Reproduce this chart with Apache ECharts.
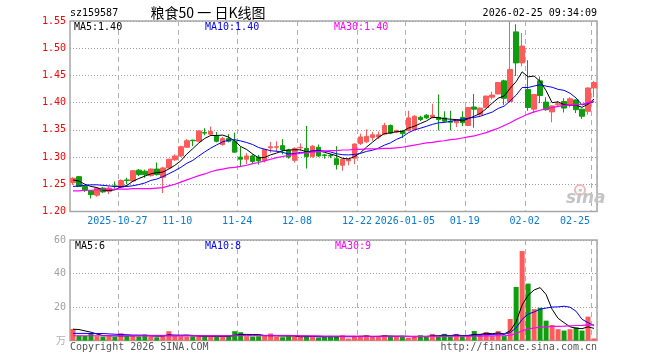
<!DOCTYPE html>
<html><head><meta charset="utf-8">
<script src="https://cdn.jsdelivr.net/npm/echarts@6/dist/echarts.min.js"></script>
<style>html,body{margin:0;padding:0;background:#fff}#c{width:660px;height:360px}</style>
</head><body><div id="c"></div>
<script>
const dates = ['2025-10-15','2025-10-16','2025-10-17','2025-10-20','2025-10-21','2025-10-22','2025-10-23','2025-10-24','2025-10-27','2025-10-28',
'2025-10-29','2025-10-30','2025-10-31','2025-11-03','2025-11-04','2025-11-05','2025-11-06','2025-11-07','2025-11-10','2025-11-11',
'2025-11-12','2025-11-13','2025-11-14','2025-11-17','2025-11-18','2025-11-19','2025-11-20','2025-11-21','2025-11-24','2025-11-25',
'2025-11-26','2025-11-27','2025-11-28','2025-12-01','2025-12-02','2025-12-03','2025-12-04','2025-12-05','2025-12-08','2025-12-09',
'2025-12-10','2025-12-11','2025-12-12','2025-12-15','2025-12-16','2025-12-17','2025-12-18','2025-12-19','2025-12-22','2025-12-23',
'2025-12-24','2025-12-25','2025-12-26','2025-12-29','2025-12-30','2025-12-31','2026-01-05','2026-01-06','2026-01-07','2026-01-08',
'2026-01-09','2026-01-12','2026-01-13','2026-01-14','2026-01-15','2026-01-16','2026-01-19','2026-01-20','2026-01-21','2026-01-22',
'2026-01-23','2026-01-26','2026-01-27','2026-01-28','2026-01-29','2026-01-30','2026-02-02','2026-02-03','2026-02-04','2026-02-05',
'2026-02-06','2026-02-09','2026-02-10','2026-02-11','2026-02-12','2026-02-13','2026-02-24','2026-02-25'];

const tickDates = ['2025-10-27','2025-11-10','2025-11-24','2025-12-08','2025-12-22','2026-01-05','2026-01-19','2026-02-02','2026-02-25'];
const tickLabels = ['2025-10-27','11-10','11-24','12-08','12-22','2026-01-05','01-19','02-02','02-25'];

const open = [1.253,1.264,1.246,1.238,1.230,1.243,1.237,1.247,1.244,1.258,
1.256,1.276,1.274,1.266,1.278,1.263,1.280,1.295,1.302,1.318,
1.331,1.329,1.345,1.342,1.339,1.323,1.334,1.329,1.300,1.296,
1.302,1.300,1.294,1.317,1.318,1.321,1.313,1.294,1.317,1.316,
1.301,1.318,1.304,1.303,1.297,1.285,1.293,1.298,1.325,1.328,
1.336,1.337,1.342,1.358,1.346,1.348,1.349,1.351,1.373,1.377,
1.373,1.373,1.372,1.366,1.363,1.373,1.358,1.392,1.378,1.391,
1.410,1.416,1.440,1.402,1.530,1.473,1.424,1.388,1.440,1.401,
1.383,1.396,1.402,1.396,1.405,1.388,1.384,1.427];
const close = [1.261,1.246,1.239,1.231,1.243,1.236,1.243,1.246,1.257,1.257,
1.275,1.268,1.268,1.278,1.268,1.280,1.296,1.302,1.319,1.330,
1.330,1.348,1.344,1.347,1.329,1.334,1.329,1.309,1.296,1.302,
1.292,1.293,1.314,1.319,1.319,1.313,1.300,1.316,1.318,1.301,
1.320,1.302,1.303,1.302,1.286,1.296,1.296,1.324,1.337,1.338,
1.341,1.341,1.358,1.344,1.349,1.343,1.372,1.375,1.369,1.372,
1.377,1.369,1.366,1.364,1.369,1.363,1.391,1.388,1.390,1.412,
1.414,1.437,1.408,1.461,1.473,1.504,1.391,1.415,1.413,1.387,
1.394,1.398,1.390,1.407,1.387,1.375,1.427,1.437];
const low = [1.249,1.245,1.236,1.224,1.227,1.234,1.232,1.242,1.243,1.250,
1.255,1.265,1.262,1.264,1.266,1.234,1.279,1.293,1.300,1.317,
1.320,1.328,1.340,1.339,1.327,1.321,1.327,1.308,1.283,1.287,
1.289,1.286,1.290,1.308,1.310,1.305,1.297,1.290,1.312,1.279,
1.299,1.300,1.297,1.298,1.277,1.275,1.285,1.287,1.322,1.326,
1.330,1.333,1.340,1.342,1.344,1.335,1.347,1.349,1.366,1.370,
1.371,1.349,1.364,1.349,1.355,1.357,1.357,1.354,1.376,1.390,
1.406,1.415,1.396,1.400,1.449,1.467,1.385,1.381,1.399,1.385,
1.364,1.392,1.382,1.391,1.381,1.370,1.378,1.410];
const high = [1.263,1.265,1.247,1.239,1.244,1.245,1.246,1.255,1.259,1.262,
1.276,1.278,1.277,1.279,1.290,1.282,1.297,1.305,1.321,1.333,
1.332,1.349,1.353,1.356,1.346,1.337,1.342,1.345,1.319,1.307,
1.305,1.304,1.315,1.328,1.329,1.333,1.315,1.318,1.325,1.357,
1.322,1.323,1.306,1.306,1.320,1.297,1.297,1.325,1.343,1.351,
1.346,1.347,1.363,1.360,1.350,1.350,1.385,1.377,1.376,1.379,
1.398,1.415,1.384,1.385,1.370,1.384,1.392,1.416,1.391,1.413,
1.420,1.438,1.442,1.549,1.544,1.528,1.478,1.416,1.448,1.410,
1.395,1.403,1.408,1.410,1.406,1.389,1.428,1.440];

const ma5 = [1.258,1.256,1.250,1.246,1.2440,1.2390,1.2384,1.2398,1.2450,1.2478,
1.2556,1.2606,1.2650,1.2692,1.2714,1.2724,1.2780,1.2848,1.2930,1.3054,
1.3154,1.3258,1.3342,1.3398,1.3396,1.3404,1.3366,1.3296,1.3194,1.3140,
1.3056,1.2984,1.2994,1.3040,1.3074,1.3116,1.3130,1.3134,1.3132,1.3096,
1.3110,1.3114,1.3088,1.3056,1.3026,1.2978,1.2966,1.3008,1.3078,1.3182,
1.3272,1.3362,1.3430,1.3444,1.3466,1.3470,1.3532,1.3566,1.3616,1.3662,
1.3730,1.3724,1.3706,1.3696,1.3690,1.3662,1.3706,1.3750,1.3802,1.3888,
1.3990,1.4082,1.4122,1.4264,1.4386,1.4566,1.4474,1.4488,1.4392,1.4220,
1.4000,1.4014,1.3964,1.3952,1.3952,1.3914,1.3972,1.4066];
const ma10 = [1.246,1.247,1.248,1.249,1.249,1.248,1.247,1.246,1.246,1.2459,
1.2473,1.2495,1.2524,1.2571,1.2596,1.2640,1.2693,1.2749,1.2811,1.2884,
1.2939,1.3019,1.3095,1.3164,1.3225,1.3279,1.3312,1.3319,1.3296,1.3268,
1.3230,1.3175,1.3145,1.3117,1.3107,1.3086,1.3057,1.3064,1.3086,1.3085,
1.3113,1.3122,1.3111,1.3094,1.3061,1.3044,1.3040,1.3048,1.3067,1.3104,
1.3125,1.3164,1.3219,1.3261,1.3324,1.3371,1.3447,1.3498,1.3530,1.3564,
1.3600,1.3628,1.3636,1.3656,1.3676,1.3696,1.3715,1.3728,1.3749,1.3789,
1.3826,1.3894,1.3936,1.4033,1.4137,1.4278,1.4278,1.4305,1.4328,1.4303,
1.4283,1.4244,1.4226,1.4172,1.4086,1.3957,1.3993,1.4015];
const ma30 = [1.238,1.238,1.239,1.239,1.240,1.240,1.240,1.241,1.241,1.241,
1.242,1.242,1.242,1.242,1.243,1.244,1.247,1.250,1.254,1.258,
1.262,1.266,1.269,1.273,1.276,1.278,1.280,1.281,1.283,1.285,
1.288,1.290,1.293,1.296,1.299,1.301,1.303,1.305,1.307,1.308,
1.309,1.310,1.311,1.312,1.312,1.313,1.313,1.314,1.314,1.315,
1.315,1.315,1.316,1.316,1.317,1.318,1.320,1.322,1.324,1.326,
1.327,1.329,1.330,1.332,1.333,1.335,1.337,1.339,1.342,1.345,
1.349,1.353,1.358,1.363,1.369,1.374,1.379,1.383,1.386,1.389,
1.391,1.393,1.395,1.396,1.396,1.397,1.400,1.403];

const volume = [6.9,3.0,2.8,4.0,2.6,2.4,2.6,2.2,4.4,2.6,
2.8,2.4,3.6,2.4,2.0,3.2,5.6,2.8,2.6,2.4,
2.6,2.4,2.8,2.2,2.4,2.8,2.6,5.6,5.0,2.6,
2.4,2.6,2.8,4.2,2.4,2.0,2.6,2.4,2.2,2.8,
2.4,1.8,2.0,2.8,2.6,3.2,1.2,2.4,2.8,3.2,
2.4,2.4,3.2,2.4,2.4,2.4,1.8,2.4,3.2,2.4,
4.0,2.4,4.0,2.4,4.0,2.4,2.8,5.7,4.0,5.1,
2.7,5.7,2.7,12.9,32,53.4,34,18.8,19.6,11.9,
9.3,6.8,6.0,6.8,7.9,6.0,14.3,1.3];
const vma5 = [6.8,6.6,5.8,5.0,3.9,3.0,2.9,2.8,2.8,2.8,
2.9,2.9,3.1,2.8,2.6,2.7,3.4,3.2,3.2,3.3,
3.1,2.6,2.6,2.5,2.5,2.5,2.5,3.1,3.7,3.7,
3.6,3.6,3.0,2.9,2.9,2.7,2.8,2.7,2.3,2.4,
2.5,2.3,2.2,2.4,2.3,2.5,2.3,2.4,2.6,2.7,
2.4,2.5,2.8,2.7,2.6,2.6,2.5,2.3,2.4,2.4,
2.8,2.9,3.3,3.0,3.4,3.0,3.1,3.7,3.7,4.4,
4.1,4.6,4.0,5.8,11.2,21.3,27.0,30.2,31.6,27.5,
18.7,13.3,10.7,8.2,7.4,7.1,8.2,7.3];
const vma10 = [4.3,4.3,4.3,4.2,4.2,4.2,4.0,3.8,3.6,3.5,
3.3,3.3,3.2,3.1,3.1,3.1,3.2,3.2,3.1,3.1,
3.0,3.0,2.9,2.9,2.9,2.9,2.9,3.1,3.2,3.2,
3.2,3.2,3.1,3.1,3.1,3.1,3.1,3.0,2.8,2.7,
2.6,2.5,2.4,2.4,2.4,2.4,2.4,2.4,2.4,2.5,
2.5,2.5,2.5,2.5,2.5,2.6,2.5,2.5,2.5,2.5,
2.7,2.7,2.9,2.8,3.1,2.8,2.9,3.2,3.3,3.6,
3.6,4.0,3.7,4.8,7.6,12.7,15.8,17.1,18.7,19.4,
20.0,20.1,20.5,19.9,17.5,12.7,10.7,9.0];
const vma30 = [2.9,2.9,2.9,2.9,2.9,2.9,2.9,2.9,2.9,2.9,
2.9,2.8,2.8,2.8,2.8,2.8,2.8,2.8,2.8,2.8,
2.8,2.8,2.8,2.8,2.8,2.8,2.8,2.9,2.9,2.9,
2.9,2.9,2.9,2.9,2.9,2.9,2.9,2.9,2.8,2.8,
2.8,2.8,2.7,2.7,2.7,2.7,2.7,2.7,2.6,2.6,
2.6,2.6,2.6,2.6,2.6,2.5,2.5,2.5,2.5,2.5,
2.5,2.5,2.6,2.6,2.6,2.6,2.6,2.7,2.7,2.8,
2.8,2.9,2.9,3.2,4.2,5.9,7.0,7.5,8.0,8.2,
8.4,8.5,8.6,8.8,9.0,9.1,9.4,9.4];

const priceTicks = [1.20,1.25,1.30,1.35,1.40,1.45,1.50,1.55];
const volTicks = [0,20,40,60];

const RED = '#ff5b5b', GREEN = '#0e9e0e';
const MONO = '"DejaVu Sans Mono", "Liberation Mono", monospace';

const kData = dates.map((d, i) => [open[i], close[i], low[i], high[i]]);
const isTick = (i) => tickDates.indexOf(dates[i]) >= 0;

const chart = echarts.init(document.getElementById('c'), null, {renderer: 'canvas'});
const dash = {type: [5, 4], color: '#b0b0b0', width: 1};

function txt(text, x, y, color, opts) {
  opts = opts || {};
  return {type: 'text', x: x, y: y, silent: true, z: 100,
    style: {text: text, fill: color, font: opts.font || ('10px ' + MONO),
      align: opts.align || 'left', verticalAlign: 'middle'}};
}

const option = {
  animation: false,
  backgroundColor: '#fff',
  grid: [
    {left: 70, right: 63, top: 21, height: 190.5, show: true, borderColor: '#a8a8a8', borderWidth: 1.5, backgroundColor: 'transparent'},
    {left: 70, right: 63, top: 240, height: 100.6, show: true, borderColor: '#a8a8a8', borderWidth: 1.5, backgroundColor: 'transparent'}
  ],
  xAxis: [
    {type: 'category', gridIndex: 0, data: dates, boundaryGap: true,
      axisLine: {show: false}, axisTick: {show: false},
      axisLabel: {
        interval: (i) => isTick(i),
        color: '#0a7ad4', fontFamily: MONO, fontSize: 10, margin: 5,
        formatter: (v) => {
          const k = tickDates.indexOf(v);
          if (k < 0) return '';
          return (k === tickDates.length - 1 ? '{e|' : '{m|') + tickLabels[k] + '}';
        },
        rich: {
          m: {color: '#0a7ad4', fontFamily: MONO, fontSize: 10, padding: [0, 7, 0, 0]},
          e: {color: '#0a7ad4', fontFamily: MONO, fontSize: 10, padding: [0, 38, 0, 0]}
        }
      },
      splitLine: {show: true, interval: (i) => isTick(i), lineStyle: dash}
    },
    {type: 'category', gridIndex: 1, data: dates, boundaryGap: true,
      axisLine: {show: false}, axisTick: {show: false}, axisLabel: {show: false},
      splitLine: {show: true, interval: (i) => isTick(i), lineStyle: dash}
    }
  ],
  yAxis: [
    {type: 'value', gridIndex: 0, min: priceTicks[0], max: priceTicks[priceTicks.length - 1], interval: 0.05,
      axisLine: {show: false}, axisTick: {show: false},
      axisLabel: {color: '#ff0000', fontFamily: MONO, fontSize: 10, margin: 4, formatter: (v) => v.toFixed(2)},
      splitLine: {show: true, lineStyle: {type: [1, 2], color: '#a0a0a0', width: 1}}
    },
    {type: 'value', gridIndex: 1, min: volTicks[0], max: volTicks[volTicks.length - 1], interval: 20,
      axisLine: {show: false}, axisTick: {show: false},
      axisLabel: {color: '#a0a0a0', fontFamily: MONO, fontSize: 10, margin: 4, formatter: (v) => v === 0 ? '' : String(v)},
      splitLine: {show: true, lineStyle: {type: [1, 2], color: '#a0a0a0', width: 1}}
    }
  ],
  series: [
    {type: 'candlestick', xAxisIndex: 0, yAxisIndex: 0, data: kData, barWidth: 5,
      itemStyle: {color: RED, color0: GREEN, borderColor: RED, borderColor0: GREEN, borderWidth: 1}},
    {type: 'line', xAxisIndex: 0, yAxisIndex: 0, data: ma5, showSymbol: false, smooth: false,
      lineStyle: {color: '#000', width: 1}, z: 5},
    {type: 'line', xAxisIndex: 0, yAxisIndex: 0, data: ma10, showSymbol: false,
      lineStyle: {color: '#0000ff', width: 1}, z: 5},
    {type: 'line', xAxisIndex: 0, yAxisIndex: 0, data: ma30, showSymbol: false,
      lineStyle: {color: '#ff00ff', width: 1.2}, z: 5},
    {type: 'bar', xAxisIndex: 1, yAxisIndex: 1, data: volume, barWidth: 5,
      itemStyle: {color: (p) => close[p.dataIndex] >= open[p.dataIndex] ? RED : GREEN}},
    {type: 'line', xAxisIndex: 1, yAxisIndex: 1, data: vma5, showSymbol: false,
      lineStyle: {color: '#000', width: 1}, z: 5},
    {type: 'line', xAxisIndex: 1, yAxisIndex: 1, data: vma10, showSymbol: false,
      lineStyle: {color: '#0000ff', width: 1}, z: 5},
    {type: 'line', xAxisIndex: 1, yAxisIndex: 1, data: vma30, showSymbol: false,
      lineStyle: {color: '#ff00ff', width: 1.2}, z: 5}
  ],
  graphic: [
    txt('sz159587', 70, 13, '#000'),
    txt('粮食50 一 日K线图', 208, 13, '#000', {align: 'center', font: '14px "Noto Sans CJK SC"'}),
    txt('2026-02-25 09:34:09', 597, 13, '#000', {align: 'right'}),
    txt('MA5:1.40', 74, 27, '#000'),
    txt('MA10:1.40', 205, 27, '#0000ff'),
    txt('MA30:1.40', 334, 27, '#ff00ff'),
    txt('MA5:6', 75, 246, '#000'),
    txt('MA10:8', 205, 246, '#0000ff'),
    txt('MA30:9', 335, 246, '#ff00ff'),
    txt('万', 66, 340, '#b0b0b0', {align: 'right', font: '10px "Noto Sans CJK SC"'}),
    txt('Copyright 2026 SINA.COM', 70, 347, '#555'),
    txt('http://finance.sina.com.cn', 597, 347, '#555', {align: 'right'}),
    {type: 'circle', shape: {cx: 580, cy: 190, r: 5}, silent: true, z: 90,
      style: {fill: 'none', stroke: '#f2b8b8', lineWidth: 2}},
    txt('sina', 566, 199, '#c4c4c4', {font: 'italic bold 17px "DejaVu Sans"'})
  ]
};
chart.setOption(option);
</script>
</body></html>
